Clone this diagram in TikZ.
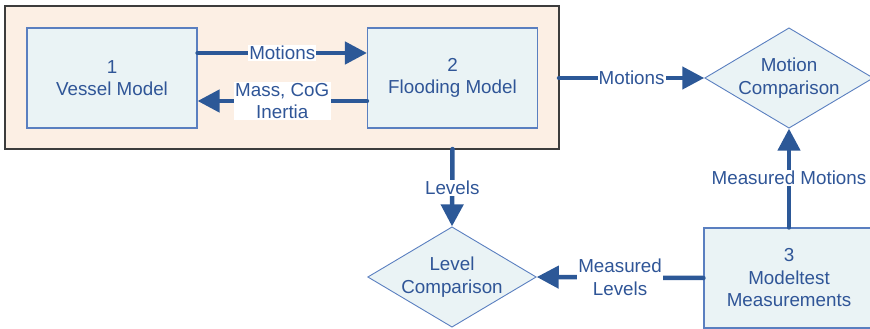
\documentclass[tikz,border=0pt]{standalone}
\usepackage{fontspec}
\setmainfont{Liberation Sans}
\usetikzlibrary{arrows.meta,shapes.geometric}

\definecolor{linkblue}{HTML}{2C5897}
\definecolor{textblue}{HTML}{2F5597}
\definecolor{edgeblue}{HTML}{5A7FC0}
\definecolor{boxfill}{HTML}{EAF3F5}
\definecolor{framefill}{HTML}{FCEFE4}
\definecolor{framedraw}{HTML}{3C3C3C}

\tikzset{
  every node/.style={font=\fontsize{18.8}{22.5}\selectfont, text=textblue, align=center},
  frame/.style={draw=framedraw, line width=1.2pt, fill=framefill},
  block/.style={rectangle, draw=edgeblue, line width=1.1pt, fill=boxfill,
                minimum width=170pt, minimum height=100pt, inner sep=0pt},
  check/.style={diamond, draw=edgeblue, line width=0.9pt, fill=boxfill,
                minimum width=168pt, minimum height=100pt, aspect=1.68, inner sep=0pt},
  link/.style={draw=linkblue, line width=4.5pt, line cap=round,
               -{Triangle[length=22pt,width=22pt]}},
  tag/.style={fill=white, inner sep=1pt, midway},
}

\begin{document}
\begin{tikzpicture}[x=1pt, y=-1pt]
  \useasboundingbox (0,0) rectangle (870,329);

  % simulation frame holding the two coupled models
  \path[frame] (5,6) rectangle (559,149);
  \coordinate (frameE) at (559,78);
  \coordinate (frameS) at (452.5,149);

  \node[block] (vessel) at (112,78) {1\\Vessel Model};
  \node[block] (flood) at (452.5,78) {2\\Flooding Model};
  \node[block] (test) at (789,278) {3\\Modeltest\\Measurements};

  \node[check] (motcmp) at (789,78) {Motion\\Comparison};
  \node[check] (lvlcmp) at (452,277) {Level\\Comparison};

  % exchange between the models
  \draw[link] ([yshift=25pt]vessel.east) -- ([yshift=25pt]flood.west)
    node[tag] {Motions};
  \draw[link] ([yshift=-23pt]flood.west) -- ([yshift=-23pt]vessel.east)
    node[tag, inner sep=1.5pt] {Mass, CoG\\Inertia};

  % results passed on for comparison
  \draw[link] (frameE) -- (motcmp.west) node[tag] {Motions};
  \draw[link] (frameS) -- (lvlcmp.north) node[tag] {Levels};
  \draw[link] (test.north) -- (motcmp.south) node[tag] {Measured Motions};
  \draw[link] (test.west) -- (lvlcmp.east) node[tag] {Measured\\Levels};
\end{tikzpicture}
\end{document}
